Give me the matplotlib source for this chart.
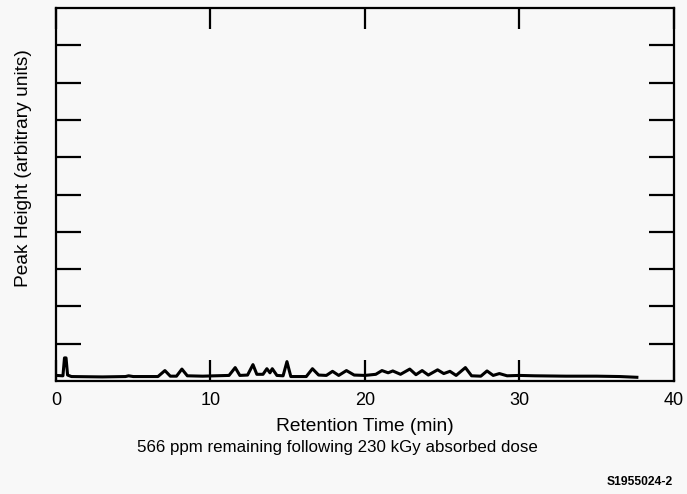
import matplotlib
matplotlib.use('Agg')
import matplotlib.pyplot as plt

plt.rcParams['font.family'] = ['Liberation Sans', 'DejaVu Sans']

# chromatogram trace (min, arbitrary units)
time = [0.0, 0.45, 0.55, 0.65, 0.75, 1.0, 3.0, 4.5, 4.7, 5.0, 6.6, 7.05, 7.4, 7.8, 8.15,
        8.5, 9.5, 10.3, 11.2, 11.6, 11.9, 12.4, 12.75, 13.0, 13.4, 13.65, 13.85, 14.0,
        14.3, 14.7, 14.95, 15.2, 16.2, 16.6, 17.0, 17.5, 17.9, 18.3, 18.8, 19.3, 20.0,
        20.7, 21.1, 21.5, 21.8, 22.3, 22.9, 23.3, 23.7, 24.1, 24.7, 25.1, 25.5, 25.9,
        26.5, 26.9, 27.5, 27.9, 28.3, 28.7, 29.2, 30.0, 31.0, 33.0, 35.0, 36.5, 37.6]
height = [0.15, 0.14, 0.62, 0.62, 0.16, 0.12, 0.11, 0.12, 0.14, 0.12, 0.12, 0.28, 0.13, 0.13, 0.32,
          0.14, 0.13, 0.14, 0.15, 0.36, 0.15, 0.16, 0.44, 0.18, 0.18, 0.33, 0.22, 0.33,
          0.15, 0.14, 0.52, 0.12, 0.12, 0.33, 0.16, 0.15, 0.26, 0.15, 0.28, 0.16, 0.15,
          0.18, 0.28, 0.22, 0.27, 0.18, 0.32, 0.17, 0.28, 0.16, 0.30, 0.20, 0.26, 0.15,
          0.36, 0.14, 0.13, 0.27, 0.15, 0.20, 0.14, 0.15, 0.14, 0.13, 0.13, 0.12, 0.10]

xticks = [0, 10, 20, 30, 40]
yticks = [1, 2, 3, 4, 5, 6, 7, 8, 9]

bg = '#f8f8f8'
fig = plt.figure(figsize=(6.87, 4.94), dpi=100, facecolor=bg)
ax = fig.add_axes([0.0815, 0.2287, 0.8995, 0.7551], facecolor=bg)

ax.plot(time, height, color='black', lw=2.2, solid_joinstyle='round')

ax.set_xlim(0, 40)
ax.set_ylim(0, 10)
ax.set_xticks(xticks)
ax.set_yticks(yticks)
ax.set_yticklabels([])
ax.tick_params(axis='x', direction='in', length=15, width=1.6, top=True, labelsize=13, pad=8)
ax.tick_params(axis='y', direction='in', length=18, width=1.6, right=True)
for s in ax.spines.values():
    s.set_linewidth(1.6)

fig.text(0.531, (494 - 426) / 494, 'Retention Time (min)', fontsize=13.8,
         ha='center', va='center')
fig.text(0.034, (494 - 168) / 494, 'Peak Height (arbitrary units)', rotation=90, fontsize=13.8,
         ha='center', va='center')
fig.text(0.491, (494 - 447) / 494, '566 ppm remaining following 230 kGy absorbed dose',
         fontsize=12.2, ha='center', va='center')
fig.text(0.979, (494 - 482) / 494, 'S1955024-2', fontsize=8.7, fontweight='bold',
         ha='right', va='center')

fig.savefig('out.png', dpi=100, facecolor=bg)
